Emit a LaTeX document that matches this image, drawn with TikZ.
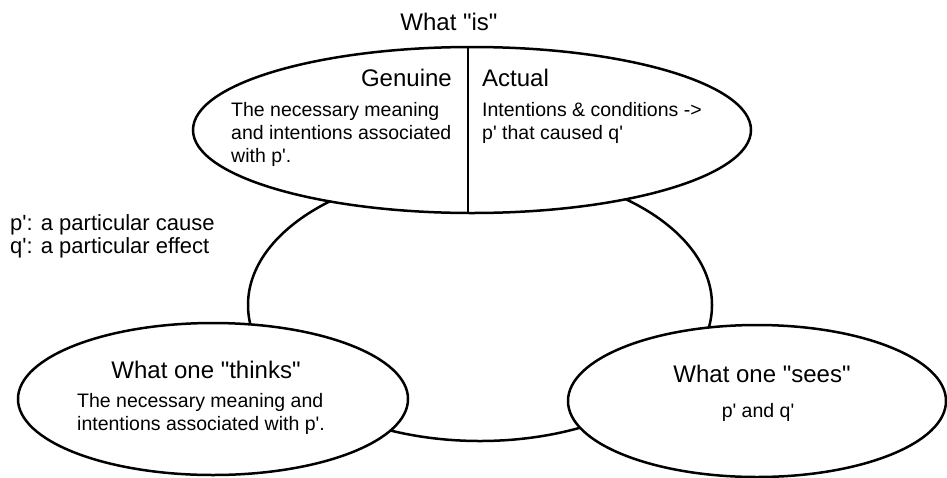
\documentclass[tikz,border=0pt]{standalone}
\usepackage{fontspec}
\setmainfont{Liberation Sans}[Ligatures=TeXOff]
\usetikzlibrary{shapes.geometric,positioning}

\begin{document}
\begin{tikzpicture}[x=1pt, y=-1pt,
  bubble/.style={draw, ellipse, line width=2.5pt, fill=white, inner sep=0pt},
  head/.style={inner sep=0pt, font=\fontsize{24}{28}\selectfont},
  body/.style={inner sep=0pt, align=left, font=\fontsize{19.5}{23}\selectfont},
  legend/.style={inner sep=0pt, align=left, font=\fontsize{22}{23}\selectfont}]
\useasboundingbox (0,0) rectangle (947,477);
% middle ellipse behind the other three
\node[bubble, minimum width=464pt, minimum height=272pt] (core) at (480,305) {};
\node[bubble, minimum width=558pt, minimum height=166pt] (is) at (472,130) {};
\node[bubble, minimum width=390pt, minimum height=152pt] (thinks) at (213,399) {};
\node[bubble, minimum width=378pt, minimum height=152pt] (sees) at (757,401) {};
\draw[line width=2.5pt] ([xshift=-4pt]is.north) -- ([xshift=-4pt]is.south);
% texts
\node[head, anchor=base] (istitle) at (449,30) {What "is"};
\node[head, anchor=base east] (genuine) at (452,86) {Genuine};
\node[head, anchor=base west] (actual) at (482,86) {Actual};
\node[body, anchor=north west] (genuinetxt) at (231,102) {The necessary meaning\\and intentions associated\\with p'.};
\node[body, anchor=north west] (actualtxt) at (482,102) {Intentions \& conditions ->\\p' that caused q'};
\node[legend, anchor=north west] (legend) at (10,214) {p': a particular cause\\q': a particular effect};
\node[head, anchor=base] (thinkstitle) at (206,378) {What one "thinks"};
\node[body, anchor=north west] (thinkstxt) at (77,393) {The necessary meaning and\\intentions associated with p'.};
\node[head, anchor=base] (seestitle) at (762,382) {What one "sees"};
\node[body, anchor=base] (seestxt) at (758,417) {p' and q'};
\end{tikzpicture}
\end{document}
